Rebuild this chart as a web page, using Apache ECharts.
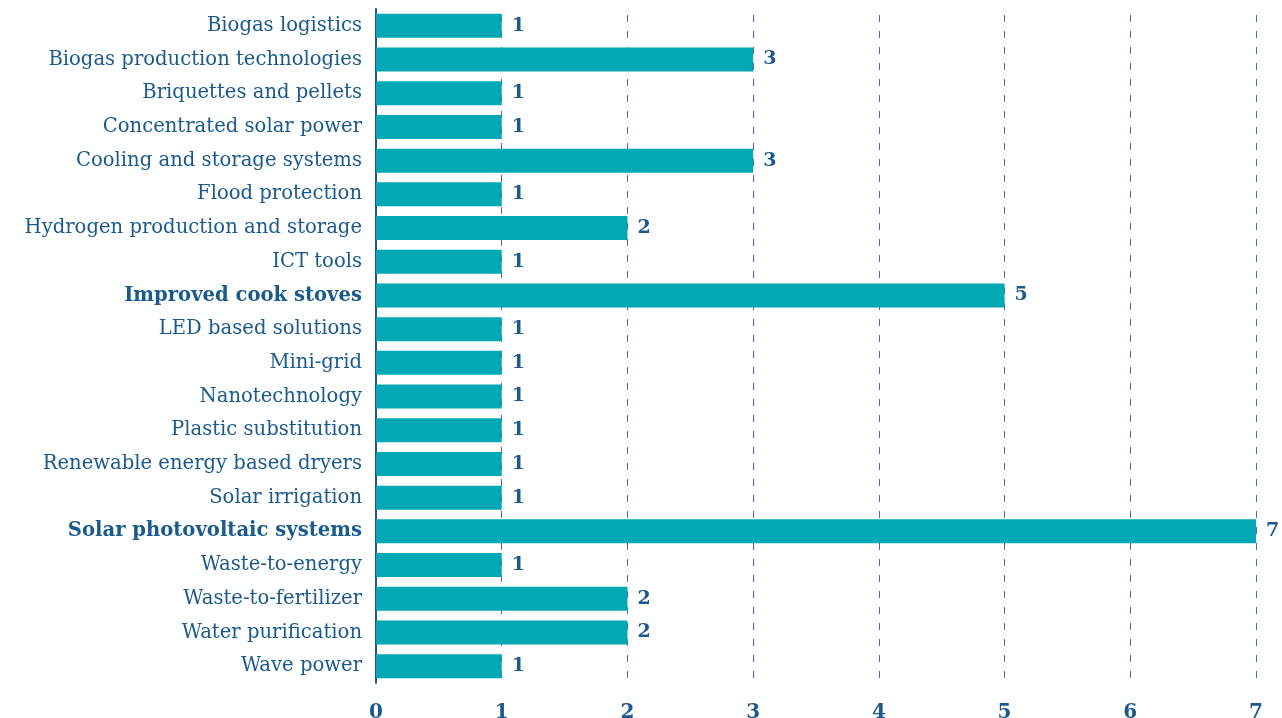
<!DOCTYPE html>
<html><head><meta charset="utf-8">
<script src="https://cdn.jsdelivr.net/npm/echarts@6/dist/echarts.min.js"></script>
<style>html,body{margin:0;padding:0;background:#fff}#c{width:1282px;height:718px}</style>
</head><body><div id="c"></div>
<script>
const categories = ["Biogas logistics","Biogas production technologies","Briquettes and pellets","Concentrated solar power","Cooling and storage systems","Flood protection","Hydrogen production and storage","ICT tools","Improved cook stoves","LED based solutions","Mini-grid","Nanotechnology","Plastic substitution","Renewable energy based dryers","Solar irrigation","Solar photovoltaic systems","Waste-to-energy","Waste-to-fertilizer","Water purification","Wave power"];
const values = [1,3,1,1,3,1,2,1,5,1,1,1,1,1,1,7,1,2,2,1];
const boldCategories = ["Improved cook stoves","Solar photovoltaic systems"];
const xTicks = [0,1,2,3,4,5,6,7];

const FONT = "DejaVu Serif";
const TXT = "#1b5a8c";
const chart = echarts.init(document.getElementById('c'));
chart.setOption({
  animation:false,
  grid:{left:376,right:26,top:9,bottom:35,containLabel:false,outerBoundsMode:'none'},
  xAxis:{type:'value',min:0,max:7,interval:1,
    axisLine:{show:false},axisTick:{show:false},
    splitLine:{show:true,lineStyle:{type:[7,9],dashOffset:-6,color:'#5068ad',width:1}},
    axisLabel:{color:TXT,fontFamily:FONT,fontWeight:'bold',fontSize:20,margin:20,
      formatter:v=>xTicks.includes(v)?String(v):''}
  },
  yAxis:{type:'category',data:categories,inverse:true,
    axisLine:{show:true,lineStyle:{color:'#1b5a8c',width:2}},
    axisTick:{show:false},
    axisLabel:{color:TXT,fontFamily:FONT,fontSize:19.6,margin:14,
      formatter:v=>boldCategories.includes(v)?'{b|'+v+'}':v,
      rich:{b:{fontWeight:'bold',color:TXT,fontFamily:FONT,fontSize:19.6}}}
  },
  series:[{type:'bar',data:values,barWidth:24,
    itemStyle:{color:'#02a9b4'},
    label:{show:true,position:'right',distance:10,color:TXT,fontFamily:FONT,fontWeight:'bold',fontSize:19}
  }]
});
</script></body></html>
